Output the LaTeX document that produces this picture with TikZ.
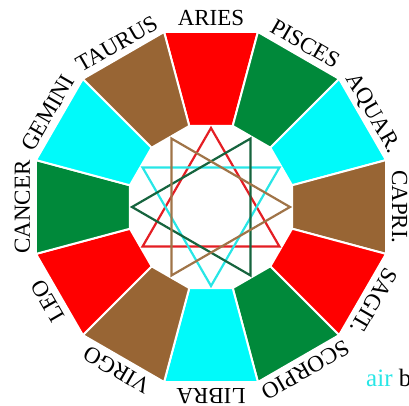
\documentclass[tikz,border=0pt]{standalone}
\usepackage{fontspec}
\setmainfont{Liberation Serif}
\definecolor{zred}{RGB}{255,0,0}
\definecolor{zgreen}{RGB}{0,137,58}
\definecolor{zcyan}{RGB}{0,250,250}
\definecolor{zbrown}{RGB}{152,101,52}
\definecolor{tred}{RGB}{228,30,36}
\definecolor{tcyan}{RGB}{40,230,230}
\definecolor{tgreen}{RGB}{22,100,62}
\definecolor{tbrown}{RGB}{160,116,72}
\tikzset{
  sign/.style={font=\fontsize{23}{23}\selectfont, anchor=base, inner sep=0pt},
}
\begin{document}
\begin{tikzpicture}[x=1pt,y=1pt]
\useasboundingbox (-211,-199) rectangle (198,207);
% twelve segments of the ring, angle of the middle / colour
\foreach \a/\c in {90/zred, 60/zgreen, 30/zcyan, 0/zbrown, -30/zred, -60/zgreen,
                   -90/zcyan, -120/zbrown, -150/zred, 180/zgreen, 150/zcyan, 120/zbrown}
  \filldraw[fill=\c, draw=white, line width=2] (\a-15:83.9) -- (\a-15:181.2)
    -- (\a+15:181.2) -- (\a+15:83.9) -- cycle;
% names of the signs round the ring
\foreach \a/\n/\t in {90/aries/ARIES, 60/pisces/PISCES, 30/aquar/AQUAR., 0/capri/CAPRI.,
                      -30/sagit/SAGIT., -60/scorpio/SCORPIO, -90/libra/LIBRA, -120/virgo/VIRGO,
                      -150/leo/LEO, 180/cancer/CANCER, 150/gemini/GEMINI, 120/taurus/TAURUS}
  \node[sign, rotate=\a-90] (l-\n) at (\a:181) {\t};
% four triangles in the middle
\foreach \a/\c in {90/tred, 270/tcyan, 180/tgreen, 0/tbrown}
  \draw[\c, line width=2.2] (\a:79) -- (\a+120:79) -- (\a+240:79) -- cycle;
\node[font=\fontsize{25}{25}\selectfont, text=tcyan, anchor=base west, inner sep=0pt]
  (air) at (155,-179) {air \textcolor{black}{b}};
\end{tikzpicture}
\end{document}
